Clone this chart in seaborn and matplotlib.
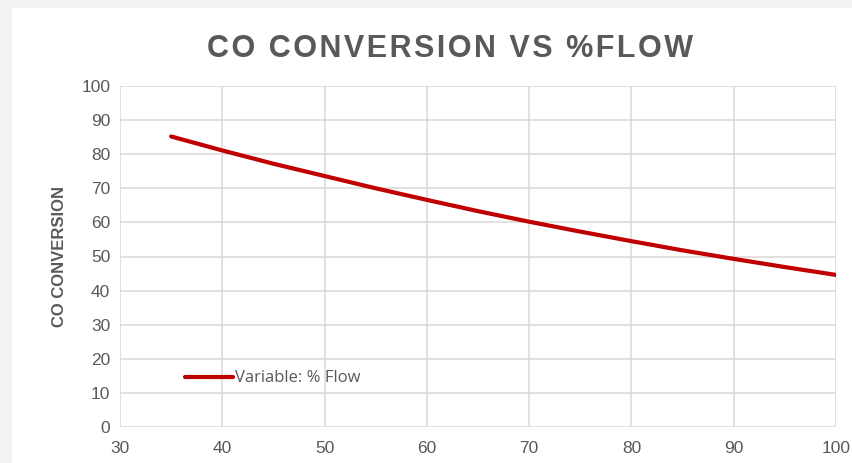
import pandas as pd
import seaborn as sns
import matplotlib
matplotlib.use("Agg")
import matplotlib.pyplot as plt
from matplotlib.patches import Rectangle

sns.set_theme(style="whitegrid")
plt.rcParams['font.family'] = ['Liberation Sans', 'DejaVu Sans']

# data
flow = [35, 40, 45, 50, 55, 60, 65, 70, 75, 80, 85, 90, 95, 100]
co_conversion = [85.2, 81.1, 77.2, 73.6, 70.0, 66.6, 63.3, 60.2, 57.3, 54.5, 51.8, 49.3, 46.9, 44.6]
title = "CO CONVERSION VS %FLOW"

df = pd.DataFrame({"flow": flow, "conv": co_conversion, "series": "Variable: % Flow"})

grey = "#595959"

fig = plt.figure(figsize=(8.53, 4.63), dpi=100, facecolor="#f3f3f3")
fig.patches.append(Rectangle((12 / 853, 0), 1, 1 - 8 / 463, transform=fig.transFigure,
                             facecolor="white", edgecolor="none", zorder=-10))
ax = fig.add_axes([120 / 853, 36 / 463, 716 / 853, 341 / 463])
ax.set_facecolor("white")

sns.lineplot(data=df, x="flow", y="conv", hue="series", palette=["#c00000"],
             linewidth=3.0, ax=ax)

ax.set_xlim(30, 100)
ax.set_ylim(0, 100)
ax.set_xticks(range(30, 101, 10))
ax.set_yticks(range(0, 101, 10))
ax.grid(True, color="#d9d9d9", linewidth=1.1)
for s in ax.spines.values():
    s.set_visible(False)
ax.tick_params(axis="both", colors=grey, labelsize=12.5, length=0)
ax.tick_params(axis="x", pad=10)
ax.tick_params(axis="y", pad=7)

ax.set_xlabel("")
ax.set_ylabel("CO CONVERSION", fontsize=12, fontweight="bold", color=grey, labelpad=10)
# spread the letters a little like the original title
spaced = "\u200a".join(title)
fig.text(0.527, 0.895, spaced, ha="center", va="center",
         fontsize=22, fontweight="bold", color=grey)

leg = ax.legend(loc="lower left", bbox_to_anchor=(0.07, 0.075), frameon=False,
                handlelength=2.9, handletextpad=0.1, prop={"family": "Open Sans", "size": 12})
for t in leg.get_texts():
    t.set_color(grey)

fig.savefig("out.png", dpi=100, facecolor=fig.get_facecolor())
